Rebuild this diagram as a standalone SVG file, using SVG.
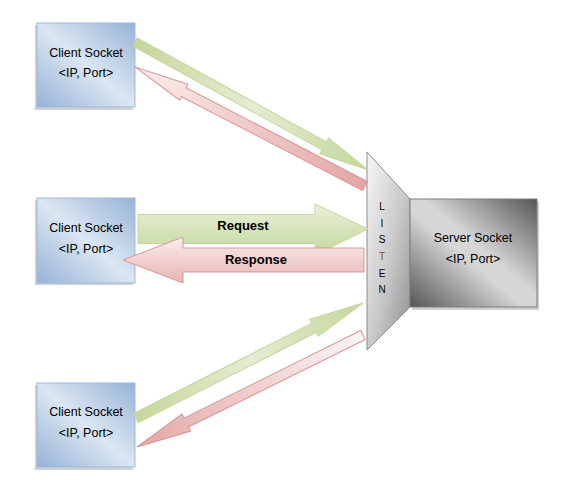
<svg xmlns="http://www.w3.org/2000/svg" width="570" height="501" viewBox="0 0 570 501">
<defs>
<linearGradient id="gBlue" x1="1" y1="0" x2="0" y2="1">
<stop offset="0" stop-color="#95b3d7"/><stop offset="0.5" stop-color="#dce6f2"/><stop offset="1" stop-color="#95b3d7"/>
</linearGradient>
<linearGradient id="gServer" x1="1" y1="0" x2="0" y2="1">
<stop offset="0" stop-color="#555555"/><stop offset="0.45" stop-color="#d6d6d6"/><stop offset="0.55" stop-color="#d6d6d6"/><stop offset="1" stop-color="#555555"/>
</linearGradient>
<linearGradient id="gListen" x1="0" y1="0" x2="1" y2="1">
<stop offset="0" stop-color="#f7f7f7"/><stop offset="0.55" stop-color="#c8c8c8"/><stop offset="1" stop-color="#8c8c8c"/>
</linearGradient>
<linearGradient id="gGreen" x1="0" y1="0" x2="1" y2="0">
<stop offset="0" stop-color="#c4d79b"/><stop offset="0.5" stop-color="#e4edd2"/><stop offset="1" stop-color="#c4d79b"/>
</linearGradient>
<linearGradient id="gGreenH" x1="0" y1="0" x2="0" y2="1">
<stop offset="0" stop-color="#e9f0da"/><stop offset="1" stop-color="#c4d79b"/>
</linearGradient>
<linearGradient id="gRed" x1="0" y1="0" x2="1" y2="0">
<stop offset="0" stop-color="#e2a6a5"/><stop offset="1" stop-color="#fbeeee"/>
</linearGradient>
<linearGradient id="gRed2" x1="0" y1="0" x2="1" y2="0">
<stop offset="0" stop-color="#fdf6f6"/><stop offset="1" stop-color="#e2a6a5"/>
</linearGradient>
<linearGradient id="gRedH" x1="0" y1="0" x2="0" y2="1">
<stop offset="0" stop-color="#fbeeee"/><stop offset="1" stop-color="#e6b3b2"/>
</linearGradient>
</defs>
<style>
.box{fill:url(#gBlue);stroke:#9cb9dd;stroke-width:1}
.shadow{fill:#000;opacity:0.18}
.t{font-family:"Liberation Sans",Arial,sans-serif;font-size:12.5px;fill:#000;text-anchor:middle}
.b{font-family:"Liberation Sans",Arial,sans-serif;font-size:13px;font-weight:bold;fill:#000;text-anchor:middle}
.l{font-family:"Liberation Sans",Arial,sans-serif;font-size:10px;fill:#000;text-anchor:middle}
.ag{fill:url(#gGreen);stroke:#c3d69b;stroke-width:1}
.ar{fill:url(#gRed);stroke:#d99694;stroke-width:1}
</style>
<g id="client1">
<rect class="shadow" x="35" y="25" width="98" height="85"/>
<rect class="box" x="37" y="23" width="98" height="84"/>
<text class="t" x="86" y="57">Client Socket</text>
<text class="t" x="86" y="77">&lt;IP, Port&gt;</text>
</g>
<g id="client2">
<rect class="shadow" x="35" y="200" width="98" height="85"/>
<rect class="box" x="37" y="198" width="98" height="85"/>
<text class="t" x="86" y="232">Client Socket</text>
<text class="t" x="86" y="253">&lt;IP, Port&gt;</text>
</g>
<g id="client3">
<rect class="shadow" x="35" y="385" width="98" height="85"/>
<rect class="box" x="37" y="383" width="98" height="84"/>
<text class="t" x="86" y="416">Client Socket</text>
<text class="t" x="86" y="437">&lt;IP, Port&gt;</text>
</g>
<g id="listen">
<polygon points="367,152 410,199 410,307 367,350" fill="url(#gListen)" stroke="#8c8c8c" stroke-width="1"/>
<text class="l" x="382" y="210">L</text>
<text class="l" x="382" y="227">I</text>
<text class="l" x="382" y="243">S</text>
<text class="l" x="382" y="260" style="fill:#984807">T</text>
<text class="l" x="382" y="277">E</text>
<text class="l" x="382" y="293">N</text>
</g>
<g id="server">
<rect class="shadow" x="412" y="201" width="127" height="109"/>
<rect x="410" y="199" width="127" height="108" fill="url(#gServer)" stroke="#7f7f7f" stroke-width="1"/>
<text class="t" x="473" y="242">Server Socket</text>
<text class="t" x="473" y="263">&lt;IP, Port&gt;</text>
</g>
<g id="connectors">
<path class="ag" transform="translate(135,42) rotate(28.78)" d="M0,-4.5 H215.8 V-9 L265.8,0 L215.8,9 V4.5 H0 Z"/>
<path class="ar" transform="translate(365,186) rotate(207.36)" d="M0,-5 H204 V-9 L259,0 L204,9 V5 H0 Z"/>
<path class="ag" transform="translate(136,418) rotate(-26.87)" d="M0,-5 H199.5 V-9.5 L254.5,0 L199.5,9.5 V5 H0 Z"/>
<path fill="url(#gRed2)" stroke="#d99694" stroke-width="1" transform="translate(363,335) rotate(153.64)" d="M0,-5 H197.2 V-9.5 L252.2,0 L197.2,9.5 V5 H0 Z"/>
<path fill="url(#gGreenH)" stroke="#c3d69b" d="M138,214.5 H315 V204 L368,229 L315,255 V243.5 H138 Z"/>
<path fill="url(#gRedH)" stroke="#d99694" d="M364,248 H183 V237 L123,260 L183,283 V272 H364 Z"/>
<text class="b" x="243" y="230">Request</text>
<text class="b" x="256" y="264">Response</text>
</g>
</svg>
